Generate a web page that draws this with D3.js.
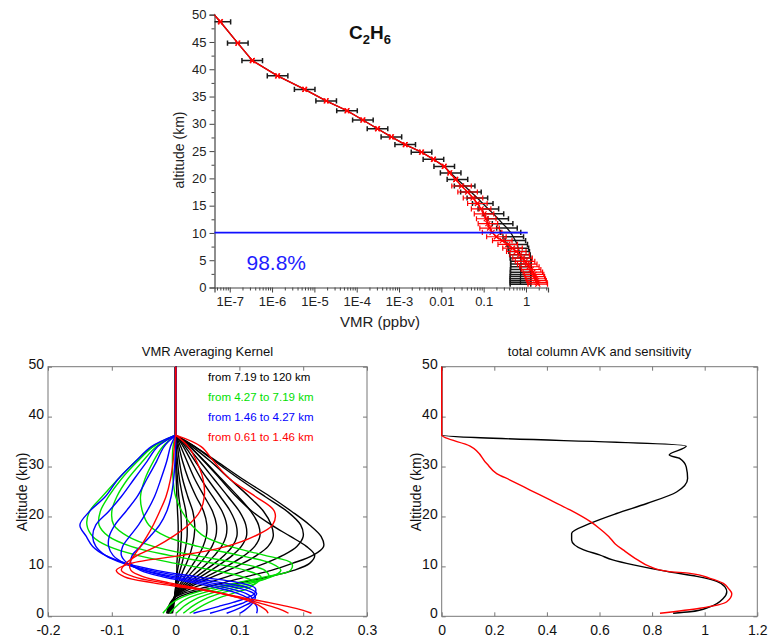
<!DOCTYPE html>
<html><head><meta charset="utf-8">
<script src="https://cdn.jsdelivr.net/npm/d3@7"></script>
<style>body{margin:0;background:#fff} text{font-family:"Liberation Sans",Arial,sans-serif}</style>
</head><body><svg id="c" width="768" height="637"></svg>
<script>
// ---------- top panel: C2H6 profile ----------
const topAlt = [52.9,48.7,44.8,41.6,38.8,36.3,34.2,32.4,30.7,29.1,27.6,26.2,24.8,23.5,22.2,21.0,19.8,18.6,17.5,16.4,15.4,14.4,13.5,12.6,11.7,10.9,10.1,9.3,8.6,7.9,7.2,6.6,6.0,5.4,4.8,4.3,3.8,3.3,2.8,2.4,2.0,1.6,1.25,0.9,0.61];
const aprioriVMR = [2.0e-8,6.0e-8,1.55e-7,3.4e-7,1.35e-6,5.9e-6,1.9e-5,5.9e-5,1.4e-4,3.1e-4,6.6e-4,1.4e-3,3.4e-3,6.5e-3,0.0117,0.0166,0.024,0.0355,0.050,0.071,0.095,0.129,0.17,0.22,0.28,0.355,0.43,0.50,0.56,0.62,0.66,0.69,0.72,0.74,0.76,0.76,0.76,0.75,0.75,0.75,0.74,0.74,0.74,0.74,0.74];
const retrievedVMR = [2.0e-8,6.0e-8,1.55e-7,3.4e-7,1.35e-6,5.9e-6,1.9e-5,5.9e-5,1.4e-4,3.1e-4,6.6e-4,1.4e-3,3.4e-3,6.5e-3,0.0117,0.0158,0.0219,0.030,0.0417,0.056,0.071,0.087,0.102,0.115,0.126,0.138,0.158,0.20,0.275,0.37,0.48,0.59,0.71,0.83,0.95,1.07,1.20,1.32,1.45,1.55,1.62,1.70,1.78,1.86,1.90];
const aprioriErr = [1.75,1.75,1.75,1.75,1.75,1.75,1.75,1.75,1.75,1.75,1.75,1.75,1.75,1.75,1.75,1.75,1.75,1.75,1.75,1.75,1.75,1.75,1.75,1.75,1.75,1.75,1.75,1.75,1.75,1.75,1.75,1.75,1.75,1.75,1.75,1.75,1.75,1.75,1.75,1.75,1.75,1.75,1.75,1.75,1.75];
const retrievedErr = [1.08,1.08,1.08,1.08,1.08,1.08,1.08,1.08,1.08,1.08,1.08,1.08,1.08,1.08,1.08,1.08,1.08,1.7,1.7,1.7,1.7,1.7,1.7,1.7,1.7,1.7,1.7,1.7,1.7,1.7,1.7,1.7,1.7,1.7,1.7,1.7,1.7,1.7,1.7,1.7,1.7,1.7,1.7,1.7,1.7];
const topYTicks = [0,5,10,15,20,25,30,35,40,45,50];
const topXTicks = [1e-7,1e-6,1e-5,1e-4,1e-3,0.01,0.1,1];
const topXLabels = ["1E-7","1E-6","1E-5","1E-4","1E-3","0.01","0.1","1"];
const tropoAlt = 10.05, tropoEnd = 1.1, columnText = "98.8%";

// ---------- bottom-left: averaging kernels ----------
const kAlt = [0.61,1.2,2.0,2.8,3.7,4.6,5.6,6.7,7.9,9.2,10.6,12.2,14,16,18.3,21,24,27.5,31,34,36.3,50];
const kernelsBlack = [
 [-0.005,-0.004,-0.003,-0.002,-0.001,0,0,0,0.001,0.002,0.002,0.003,0.004,0.004,0.004,0.003,0.002,0.001,0,0,0,0],
 [-0.006,-0.005,-0.004,-0.003,-0.002,-0.001,0,0.001,0.002,0.003,0.005,0.007,0.008,0.009,0.009,0.008,0.005,0.003,0.001,0,0,0],
 [-0.007,-0.006,-0.005,-0.004,-0.002,-0.001,0,0.002,0.004,0.007,0.01,0.013,0.016,0.018,0.018,0.016,0.011,0.006,0.003,0.001,0,0],
 [-0.008,-0.007,-0.006,-0.004,-0.002,-0.001,0.001,0.004,0.008,0.012,0.017,0.022,0.026,0.029,0.03,0.027,0.019,0.011,0.006,0.003,0,0],
 [-0.008,-0.007,-0.006,-0.004,-0.002,0,0.003,0.008,0.014,0.021,0.028,0.036,0.043,0.048,0.049,0.044,0.032,0.02,0.011,0.005,0,0],
 [-0.008,-0.007,-0.006,-0.004,-0.002,0.001,0.005,0.011,0.019,0.028,0.038,0.048,0.057,0.063,0.064,0.058,0.045,0.03,0.018,0.008,0,0],
 [-0.009,-0.008,-0.007,-0.005,-0.002,0.001,0.007,0.015,0.025,0.037,0.049,0.061,0.072,0.079,0.08,0.073,0.058,0.04,0.025,0.012,0,0],
 [-0.01,-0.009,-0.007,-0.005,-0.002,0.002,0.009,0.019,0.032,0.046,0.061,0.076,0.089,0.096,0.095,0.086,0.07,0.05,0.031,0.015,0,0],
 [-0.011,-0.01,-0.008,-0.005,-0.002,0.003,0.012,0.024,0.039,0.055,0.072,0.089,0.103,0.111,0.11,0.1,0.082,0.06,0.038,0.018,0,0],
 [-0.011,-0.01,-0.008,-0.006,-0.002,0.004,0.015,0.03,0.048,0.068,0.088,0.108,0.124,0.132,0.13,0.118,0.098,0.072,0.046,0.022,0,0],
 [-0.012,-0.011,-0.009,-0.006,-0.002,0.005,0.018,0.036,0.058,0.082,0.105,0.127,0.145,0.153,0.15,0.138,0.115,0.085,0.055,0.026,0,0],
 [-0.013,-0.012,-0.01,-0.007,-0.002,0.008,0.025,0.05,0.08,0.11,0.14,0.168,0.19,0.2,0.196,0.175,0.14,0.1,0.062,0.03,0,0],
 [-0.012,-0.011,-0.009,-0.005,0.003,0.02,0.055,0.1,0.145,0.185,0.21,0.218,0.205,0.18,0.15,0.12,0.095,0.07,0.045,0.022,0,0],
 [-0.014,-0.013,-0.011,-0.008,-0.002,0.012,0.04,0.075,0.11,0.15,0.183,0.215,0.232,0.228,0.21,0.182,0.148,0.105,0.065,0.03,0,0]
];
const kernelsGreen = [
 [-0.02,-0.016,-0.011,-0.004,0.008,0.027,0.055,0.095,0.14,0.18,0.182,0.14,0.085,0.045,0.025,0.01,0,-0.004,-0.005,-0.004,0,0],
 [-0.009,-0.005,0.001,0.008,0.02,0.04,0.07,0.11,0.15,0.165,0.15,0.1,0.035,-0.015,-0.042,-0.052,-0.055,-0.048,-0.035,-0.02,0,0],
 [0.001,0.006,0.013,0.022,0.035,0.055,0.085,0.12,0.146,0.14,0.1,0.03,-0.035,-0.075,-0.097,-0.1,-0.092,-0.075,-0.052,-0.03,0,0],
 [0.012,0.018,0.026,0.036,0.05,0.07,0.098,0.127,0.134,0.11,0.06,-0.01,-0.07,-0.105,-0.12,-0.118,-0.105,-0.085,-0.06,-0.035,0,0],
 [0.022,0.03,0.04,0.052,0.068,0.09,0.113,0.125,0.105,0.06,0,-0.06,-0.105,-0.13,-0.139,-0.135,-0.115,-0.09,-0.063,-0.036,0,0]
];
const kernelsBlue = [
 [0.028,0.045,0.068,0.09,0.112,0.124,0.125,0.1,0.035,-0.03,-0.077,-0.11,-0.13,-0.14,-0.15,-0.135,-0.11,-0.09,-0.063,-0.038,0,0],
 [0.054,0.07,0.09,0.108,0.122,0.127,0.115,0.075,0.015,-0.04,-0.082,-0.11,-0.125,-0.13,-0.125,-0.105,-0.085,-0.065,-0.045,-0.028,0,0],
 [0.08,0.092,0.106,0.118,0.125,0.122,0.1,0.055,0,-0.048,-0.08,-0.098,-0.105,-0.104,-0.095,-0.078,-0.06,-0.045,-0.03,-0.018,0,0],
 [0.101,0.108,0.116,0.121,0.12,0.11,0.083,0.04,-0.01,-0.05,-0.075,-0.085,-0.083,-0.072,-0.058,-0.045,-0.033,-0.023,-0.014,-0.008,0,0],
 [0.127,0.128,0.127,0.122,0.113,0.097,0.068,0.028,-0.02,-0.055,-0.07,-0.068,-0.055,-0.04,-0.025,-0.014,-0.007,-0.003,-0.001,0,0,0]
];
const kernelsRed = [
 [0.145,0.142,0.133,0.12,0.1,0.072,0.035,-0.01,-0.05,-0.07,-0.072,-0.065,-0.055,-0.045,-0.035,-0.025,-0.015,-0.008,-0.004,-0.002,0,0],
 [0.177,0.168,0.15,0.128,0.1,0.07,0.03,-0.02,-0.065,-0.085,-0.078,-0.06,-0.03,-0.004,0.02,0.038,0.045,0.043,0.033,0.02,0,0],
 [0.213,0.2,0.175,0.145,0.107,0.072,0.024,-0.035,-0.08,-0.093,-0.07,0.01,0.08,0.123,0.152,0.155,0.125,0.085,0.06,0.04,0,0]
];
const legendLabels = ["from 7.19 to 120 km","from 4.27 to 7.19 km","from 1.46 to 4.27 km","from 0.61 to 1.46 km"];
const kXTicks = [-0.2,-0.1,0,0.1,0.2,0.3];
const altTicks = [0,10,20,30,40,50];

// ---------- bottom-right: total column AVK and sensitivity ----------
const colAVKAlt = [50,36.3,34.1,32.3,31.6,29.9,27.6,24.9,22.6,20.6,18.6,16.6,15.3,13.3,12.3,11.3,10.3,9.0,8.0,7.0,5.9,4.9,3.6,1.9,0.9,0.61];
const colAVK = [0,0,0.93,0.865,0.906,0.93,0.935,0.893,0.78,0.665,0.564,0.494,0.494,0.54,0.6,0.65,0.729,0.855,0.97,1.046,1.077,1.084,1.071,1.02,0.944,0.88];
const sensAlt = [50,36.3,34.1,30.6,28.6,27.3,25.3,23.3,21.3,19.0,17.6,16.0,14.5,13.3,11.3,10.0,9.0,8.6,7.6,6.6,5.6,4.5,2.9,1.6,0.61];
const sensVal = [0,0,0.108,0.171,0.209,0.26,0.336,0.412,0.488,0.564,0.6,0.635,0.66,0.69,0.745,0.79,0.86,0.944,1.02,1.071,1.09,1.103,1.084,0.982,0.83];
const cXTicks = [0,0.2,0.4,0.6,0.8,1,1.2];

const C = {black:"#000", green:"#00e000", blue:"#0000ff", red:"#ff0000", axis:"#444", box:"#777"};
const svg = d3.select("#c");
svg.append("rect").attr("width",768).attr("height",637).attr("fill","#fff");

// ===== TOP PANEL =====
const xT = d3.scaleLog().domain([Math.pow(10,-7.36), Math.pow(10,0.52)]).range([214.5,548]);
const yT = d3.scaleLinear().domain([0,50]).range([287.5,14.7]);
const gT = svg.append("g");
svg.append("defs").append("clipPath").attr("id","clipT").append("rect")
  .attr("x",214.5).attr("y",5).attr("width",350).attr("height",283);

const yAxT = d3.axisLeft(yT).tickValues(topYTicks).tickSize(5).tickPadding(3).tickFormat(d3.format("d"));
const gy = gT.append("g").attr("transform","translate(214.5,0)").call(yAxT);
const minorY = d3.range(2.5,50,5);
gT.append("g").attr("transform","translate(214.5,0)")
  .call(d3.axisLeft(yT).tickValues(minorY).tickSize(3).tickFormat(""))
  .select(".domain").remove();
const xAxT = d3.axisBottom(xT).tickValues(topXTicks).tickSize(5).tickPadding(4)
  .tickFormat((d,i)=>topXLabels[i]);
const gx = gT.append("g").attr("transform","translate(0,287.5)").call(xAxT);
const minorX = [];
[-8,-7,-6,-5,-4,-3,-2,-1,0].forEach(e=>{ for(let m=2;m<=9;m++){ const v=m*Math.pow(10,e); if(v>xT.domain()[0] && v<xT.domain()[1]) minorX.push(v);} });
gT.append("g").attr("transform","translate(0,287.5)")
  .call(d3.axisBottom(xT).tickValues(minorX).tickSize(3).tickFormat(""))
  .select(".domain").remove();
gT.selectAll(".domain").attr("stroke",C.axis).attr("stroke-width",1.2);
gT.selectAll(".tick line").attr("stroke",C.axis);
gy.selectAll("text").attr("font-size",13).attr("fill","#222");
gx.selectAll("text").attr("font-size",13).attr("fill","#222");

gT.append("text").attr("x",380).attr("y",327).attr("text-anchor","middle")
  .attr("font-size",15).attr("fill","#222").text("VMR (ppbv)");
gT.append("text").attr("transform","translate(184,150) rotate(-90)").attr("text-anchor","middle")
  .attr("font-size",14).attr("fill","#222").text("altitude (km)");
const title = gT.append("text").attr("x",349).attr("y",38.5).attr("font-size",19).attr("font-weight","bold").attr("fill","#111");
title.append("tspan").text("C");
title.append("tspan").attr("font-size",13).attr("dy",5).text("2");
title.append("tspan").attr("dy",-5).text("H");
title.append("tspan").attr("font-size",13).attr("dy",5).text("6");

const dataG = gT.append("g").attr("clip-path","url(#clipT)");
const rows = topAlt.map((a,i)=>({a, ap:aprioriVMR[i], re:retrievedVMR[i], ea:aprioriErr[i], er:retrievedErr[i]}));
function errBars(g, key, ekey, color, w){
  const gg = g.append("g").attr("stroke",color).attr("stroke-width",w).attr("fill","none");
  rows.forEach(r=>{
    const x1=xT(r[key]/r[ekey]), x2=xT(r[key]*r[ekey]), y=yT(r.a);
    gg.append("line").attr("x1",x1).attr("x2",x2).attr("y1",y).attr("y2",y);
    gg.append("line").attr("x1",x1).attr("x2",x1).attr("y1",y-2.6).attr("y2",y+2.6);
    gg.append("line").attr("x1",x2).attr("x2",x2).attr("y1",y-2.6).attr("y2",y+2.6);
  });
}
errBars(dataG,"ap","ea","#1a1a1a",1.5);
const lineAp = d3.line().x(r=>xT(r.ap)).y(r=>yT(r.a));
dataG.append("path").datum(rows).attr("d",lineAp).attr("fill","none").attr("stroke","#111").attr("stroke-width",1.3);
errBars(dataG,"re","er",C.red,1.2);
const lineRe = d3.line().x(r=>xT(r.re)).y(r=>yT(r.a));
dataG.append("path").datum(rows).attr("d",lineRe).attr("fill","none").attr("stroke",C.red).attr("stroke-width",1.4);
const mk = dataG.append("g").attr("stroke",C.red).attr("stroke-width",1.2);
rows.forEach(r=>{ const x=xT(r.re), y=yT(r.a);
  mk.append("path").attr("d",`M${x-2.5},${y-2.5}L${x+2.5},${y+2.5}M${x-2.5},${y+2.5}L${x+2.5},${y-2.5}`); });

gT.append("line").attr("x1",214.5).attr("x2",xT(tropoEnd)).attr("y1",yT(tropoAlt)).attr("y2",yT(tropoAlt))
  .attr("stroke","#1010ff").attr("stroke-width",1.6);
gT.append("text").attr("x",246.5).attr("y",270).attr("font-size",21).attr("fill","#1e1eff").text(columnText);

// ===== BOTTOM PANELS (MATLAB style) =====
function matlabAxes(x, y, xt, title){
  const g = svg.append("g");
  const [x0,x1] = x.range(), [y0,y1] = y.range();
  g.append("rect").attr("x",x0).attr("y",y1).attr("width",x1-x0).attr("height",y0-y1)
    .attr("fill","none").attr("stroke",C.box).attr("stroke-width",1);
  const fmt = d=>String(d);
  g.append("g").attr("transform",`translate(0,${y0})`).call(d3.axisBottom(x).tickValues(xt).tickSize(-4).tickPadding(8.5).tickFormat(fmt));
  const ay = g.append("g").attr("transform",`translate(${x0},0)`).call(d3.axisLeft(y).tickValues(altTicks).tickSize(-4).tickPadding(4).tickFormat(fmt));
  ay.selectAll("text").attr("dy","0.12em");
  g.append("g").attr("transform",`translate(0,${y1})`).call(d3.axisTop(x).tickValues(xt).tickSize(-4).tickFormat(""));
  g.append("g").attr("transform",`translate(${x1},0)`).call(d3.axisRight(y).tickValues(altTicks).tickSize(-4).tickFormat(""));
  g.selectAll(".domain").remove();
  g.selectAll(".tick line").attr("stroke",C.box);
  g.selectAll(".tick text").attr("font-size",14).attr("fill","#111");
  g.append("text").attr("x",(x0+x1)/2).attr("y",356).attr("text-anchor","middle").attr("font-size",13).attr("fill","#111").text(title);
  g.append("text").attr("transform",`translate(${x0-21},492) rotate(-90)`).attr("text-anchor","middle").attr("font-size",14).attr("fill","#111").text("Altitude (km)");
  return g;
}
const xK = d3.scaleLinear().domain([-0.2,0.3]).range([48,367]);
const yK = d3.scaleLinear().domain([0,50]).range([616.3,366.7]);
matlabAxes(xK, yK, kXTicks, "VMR Averaging Kernel");
const kLine = d3.line().x(d=>xK(d[0])).y(d=>yK(d[1])).curve(d3.curveCatmullRom.alpha(0.5));
const gK = svg.append("g").attr("fill","none").attr("stroke-width",1.4);
[[kernelsBlack,C.black],[kernelsGreen,C.green],[kernelsBlue,C.blue],[kernelsRed,C.red]].forEach(([set,col])=>{
  set.forEach(vals=>{
    const pts = vals.map((v,i)=>[v,kAlt[i]]);
    const low = pts.slice(0, pts.length-1);
    const top = pts[pts.length-1];
    const d = kLine(low) + `L${xK(top[0])},${yK(top[1])}`;
    gK.append("path").attr("d",d).attr("stroke",col);
  });
});
const legCols = [C.black, C.green, C.blue, C.red];
legendLabels.forEach((t,i)=>svg.append("text").attr("x",208).attr("y",381+i*20).attr("font-size",11.5).attr("fill",legCols[i]).text(t));

const xC = d3.scaleLinear().domain([0,1.2]).range([441.7,757.3]);
const yC = d3.scaleLinear().domain([0,50]).range([616.3,366.7]);
matlabAxes(xC, yC, cXTicks, "total column AVK and sensitivity");
const cLine = d3.line().x(d=>xC(d[0])).y(d=>yC(d[1])).curve(d3.curveMonotoneY);
svg.append("path").attr("d",cLine(colAVK.map((v,i)=>[v,colAVKAlt[i]]))).attr("fill","none").attr("stroke",C.black).attr("stroke-width",1.4);
svg.append("path").attr("d",cLine(sensVal.map((v,i)=>[v,sensAlt[i]]))).attr("fill","none").attr("stroke",C.red).attr("stroke-width",1.4);
</script></body></html>
